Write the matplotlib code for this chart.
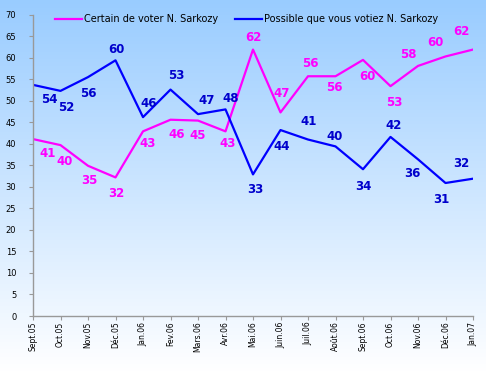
import numpy as np
import matplotlib
matplotlib.use("Agg")
import matplotlib.pyplot as plt
from matplotlib.colors import LinearSegmentedColormap

months = ["Sept.05", "Oct.05", "Nov.05", "Déc.05", "Jan.06", "Fev.06", "Mars.06",
          "Avr.06", "Mai.06", "Juin.06", "Juil.06", "Août.06", "Sept.06", "Oct.06",
          "Nov.06", "Déc.06", "Jan.07"]

certain = [41.1, 39.7, 34.9, 32.2, 42.9, 45.6, 45.4, 42.9, 61.9, 47.3, 55.7, 55.7,
           59.5, 53.4, 58.1, 60.3, 61.9]
possible = [53.7, 52.3, 55.5, 59.4, 46.2, 52.6, 46.9, 48.0, 32.9, 43.2, 41.0, 39.4,
            34.1, 41.6, 36.4, 30.9, 31.9]

certain_labels = [41, 40, 35, 32, 43, 46, 45, 43, 62, 47, 56, 56, 60, 53, 58, 60, 62]
possible_labels = [54, 52, 56, 60, 46, 53, 47, 48, 33, 44, 41, 40, 34, 42, 36, 31, 32]

# label offsets in pixels (dx, dy), dy measured downward
certain_off = [(15, 14), (4, 16), (1, 15), (1, 16), (5, 12), (6, 15), (0, 15), (2, 12),
               (0, -12), (1, -19), (2, -13), (-1, 11), (4, 17), (4, 16), (-10, -11),
               (-10, -14), (-12, -18)]
possible_off = [(16, 15), (6, 17), (0, 16), (1, -11), (6, -14), (6, -14), (9, -14),
                (5, -11), (2, 15), (1, 16), (1, -18), (-1, -10), (0, 17), (3, -11),
                (-6, 14), (-4, 17), (-12, -15)]

W, H = 486, 372
fig = plt.figure(figsize=(W / 100, H / 100), dpi=100)

# gradient background
bg = fig.add_axes([0, 0, 1, 1])
cmap = LinearSegmentedColormap.from_list("bg", ["#99ccff", "#ffffff"])
grad = np.linspace(0, 1, 256).reshape(-1, 1)
bg.imshow(grad, aspect="auto", cmap=cmap, extent=[0, 1, 0, 1], origin="upper")
bg.set_axis_off()

left, right = 33 / W, 473 / W
top, bottom = 14.7 / H, 316 / H
ax = fig.add_axes([left, 1 - bottom, right - left, bottom - top])
ax.patch.set_alpha(0)

x = np.arange(len(months))
pink, blue = "#ff00ff", "#0000ff"
ax.plot(x, certain, color=pink, lw=1.6, label="Certain de voter N. Sarkozy")
ax.plot(x, possible, color=blue, lw=1.6, label="Possible que vous votiez N. Sarkozy")

for xi, yi, lab, (dx, dy) in zip(x, certain, certain_labels, certain_off):
    ax.annotate(str(lab), (xi, yi), xytext=(dx, -dy), textcoords="offset pixels",
                ha="center", va="center", color=pink, fontsize=8.5, fontweight="bold")
for xi, yi, lab, (dx, dy) in zip(x, possible, possible_labels, possible_off):
    ax.annotate(str(lab), (xi, yi), xytext=(dx, -dy), textcoords="offset pixels",
                ha="center", va="center", color="#0000cc", fontsize=8.5, fontweight="bold")

ax.set_xlim(0, len(months) - 1)
ax.set_ylim(0, 70)
ax.set_yticks(range(0, 71, 5))
ax.set_xticks(x)
ax.set_xticklabels(months, rotation=90, fontsize=5.5)
ax.tick_params(axis="y", labelsize=6, length=3, color="#999999", pad=9)
ax.tick_params(axis="x", length=3, color="#999999", pad=1)
for s in ["top", "right"]:
    ax.spines[s].set_visible(False)
for s in ["left", "bottom"]:
    ax.spines[s].set_color("#999999")
    ax.spines[s].set_linewidth(1)

ax.legend(loc="upper left", bbox_to_anchor=(0.03, 1.03), ncol=2, frameon=False,
          fontsize=7, handlelength=2.8, handletextpad=0.15, columnspacing=1.8)

fig.savefig("out.png", dpi=100)
